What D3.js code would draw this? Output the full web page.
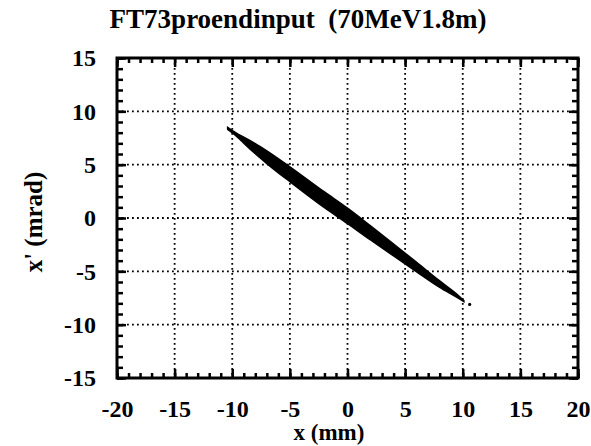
<!DOCTYPE html>
<html>
<head>
<meta charset="utf-8">
<script src="https://cdn.jsdelivr.net/npm/d3@7"></script>
<style>
  body { margin: 0; background: #fff; }
  text { font-family: "Liberation Serif", "Times New Roman", serif; font-weight: bold; fill: #000; }
</style>
</head>
<body>
<script>
// band of particles: x (mm), centre x' (mrad), half thickness (mrad)
var bandX      = [-10.4, -9.5, -9.0, -8.0, -7.0, -5.0, -2.0, 0.0, 2.0, 4.0, 6.0, 8.0, 9.5, 10.1];
var bandCentre = [8.4, 7.7, 7.3, 6.5, 5.7, 4.1, 1.7, 0.2, -1.4, -3.0, -4.6, -6.2, -7.3, -7.8];
var bandHalf   = [0.1, 0.16, 0.28, 0.48, 0.6, 0.7, 0.74, 0.72, 0.66, 0.56, 0.44, 0.3, 0.15, 0.05];
var strayX = [10.6];
var strayY = [-8.1];

var xTicks = [-20, -15, -10, -5, 0, 5, 10, 15, 20];
var yTicks = [-15, -10, -5, 0, 5, 10, 15];
var xMinor = d3.range(-20, 21, 1);
var yMinor = d3.range(-15, 16, 1);

var W = 591, H = 446;
var pLeft = 117, pRight = 578, pTop = 58, pBottom = 378;

var svg = d3.select("body").append("svg").attr("width", W).attr("height", H);

var x = d3.scaleLinear().domain([-20, 20]).range([pLeft, pRight]);
var y = d3.scaleLinear().domain([-15, 15]).range([pBottom, pTop]);

// title
svg.append("text").attr("x", 298).attr("y", 28).attr("text-anchor", "middle")
  .style("font-size", "27px").style("white-space", "pre").text("FT73proendinput  (70MeV1.8m)");

// dotted grid
var grid = svg.append("g");
grid.selectAll(".gx").data(xTicks.slice(1, -1)).enter().append("line")
  .attr("x1", function(d){ return x(d); }).attr("x2", function(d){ return x(d); })
  .attr("y1", pTop).attr("y2", pBottom);
grid.selectAll(".gy").data(yTicks.slice(1, -1)).enter().append("line")
  .attr("y1", function(d){ return y(d); }).attr("y2", function(d){ return y(d); })
  .attr("x1", pLeft).attr("x2", pRight);
grid.selectAll("line").style("stroke", "#000").style("stroke-width", 1.8).style("stroke-dasharray", "1.8,3.2");

// the beam
var band = bandX.map(function(d, i){ return { x: d, c: bandCentre[i], h: bandHalf[i] }; });
var area = d3.area()
  .x(function(d){ return x(d.x); })
  .y0(function(d){ return y(d.c - d.h); })
  .y1(function(d){ return y(d.c + d.h); })
  .curve(d3.curveMonotoneX);
svg.append("path").datum(band).attr("d", area).style("fill", "#000").style("stroke", "#000").style("stroke-width", 1.5);
svg.selectAll(".stray").data(strayX).enter().append("circle")
  .attr("cx", function(d){ return x(d); }).attr("cy", function(d, i){ return y(strayY[i]); })
  .attr("r", 1.6).style("fill", "#000");

// ticks on all four sides, pointing in
function ticks(axis, tx, ty){
  var g = svg.append("g").attr("transform", "translate(" + tx + "," + ty + ")").call(axis);
  g.select(".domain").remove();
  g.selectAll(".tick line").style("stroke", "#000").style("stroke-width", 2.5);
  return g;
}
var fmt = function(d){ return String(d); };
var gb = ticks(d3.axisBottom(x).tickValues(xTicks).tickSize(-9).tickPadding(22).tickFormat(fmt), 0, pBottom);
ticks(d3.axisBottom(x).tickValues(xMinor).tickSize(-5).tickFormat(""), 0, pBottom);
ticks(d3.axisTop(x).tickValues(xTicks).tickSize(-9).tickFormat(""), 0, pTop);
ticks(d3.axisTop(x).tickValues(xMinor).tickSize(-5).tickFormat(""), 0, pTop);
var gl = ticks(d3.axisLeft(y).tickValues(yTicks).tickSize(-9).tickPadding(21).tickFormat(fmt), pLeft, 0);
ticks(d3.axisLeft(y).tickValues(yMinor).tickSize(-6).tickFormat(""), pLeft, 0);
ticks(d3.axisRight(y).tickValues(yTicks).tickSize(-9).tickFormat(""), pRight, 0);
ticks(d3.axisRight(y).tickValues(yMinor).tickSize(-6).tickFormat(""), pRight, 0);

gb.selectAll("text").style("font-size", "24px").style("font-family", "Liberation Serif").style("font-weight", "bold");
gl.selectAll("text").style("font-size", "24px").style("font-family", "Liberation Serif").style("font-weight", "bold");

// frame
svg.append("rect").attr("x", pLeft).attr("y", pTop).attr("width", pRight - pLeft).attr("height", pBottom - pTop)
  .style("fill", "none").style("stroke", "#000").style("stroke-width", 3);

// axis titles
svg.append("text").attr("x", 329).attr("y", 440).attr("text-anchor", "middle")
  .style("font-size", "23px").text("x (mm)");
svg.append("text").attr("transform", "translate(42,222) rotate(-90)").attr("text-anchor", "middle")
  .style("font-size", "25px").text("x' (mrad)");
</script>
</body>
</html>
